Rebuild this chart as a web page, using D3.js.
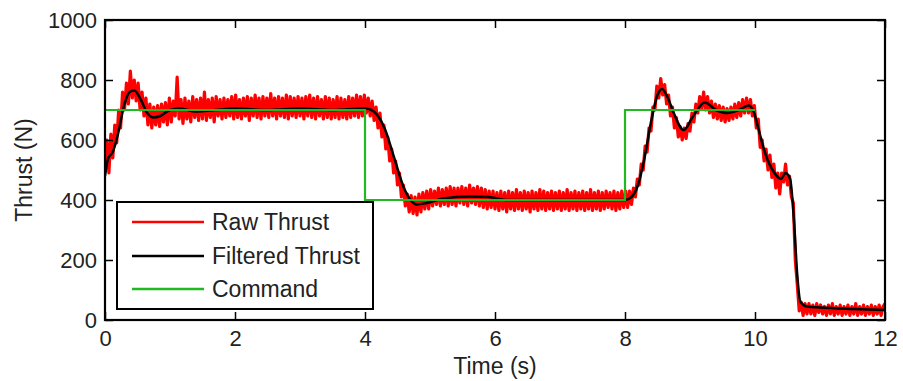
<!DOCTYPE html>
<html>
<head>
<meta charset="utf-8">
<script src="https://cdn.jsdelivr.net/npm/d3@7"></script>
<style>
  html,body{margin:0;padding:0;background:#fff;}
  svg{display:block;font-family:"Liberation Sans",Arial,sans-serif;}
</style>
</head>
<body>
<svg id="chart" width="903" height="381"></svg>
<script>
/* ---------- data ---------- */
const xTicks=[0,2,4,6,8,10,12];
const yTicks=[0,200,400,600,800,1000];

// command: step signal
const cmdT=[0,4,4,8,8,10];
const cmdV=[700,700,400,400,700,700];

// filtered thrust: knots along the black curve
const filtT=[0,0.05,0.12,0.2,0.3,0.38,0.45,0.55,0.65,0.75,0.85,1.0,1.15,1.4,1.7,2.0,2.5,3.0,3.5,4.0,4.1,4.2,4.3,4.45,4.6,4.7,4.8,4.95,5.2,5.6,5.9,6.2,7.0,8.0,8.1,8.2,8.3,8.4,8.5,8.57,8.65,8.75,8.9,9.05,9.23,9.4,9.57,9.75,9.9,9.97,10.05,10.15,10.3,10.4,10.47,10.54,10.6,10.65,10.7,10.8,11.0,11.5,12.0];
const filtV=[480,540,560,620,720,760,765,735,690,675,680,700,705,695,700,705,700,705,700,705,700,680,640,540,440,400,385,390,405,412,410,400,400,400,410,450,540,660,750,770,745,690,633,680,725,700,690,700,715,700,640,560,490,470,490,470,330,150,60,45,42,37,33];

// raw thrust: one sample every RAW_DT seconds
const RAW_DT=0.03;
const rawV=[
520,600,490,620,540,650,590,700,640,760,700,
790,720,830,740,800,730,790,700,760,680,
740,650,720,640,710,650,715,645,720,660,
725,650,740,660,730,680,810,670,735,655,
740,670,730,660,745,675,735,665,740,670,
760,665,735,675,740,660,745,680,735,670,
740,675,735,680,745,670,750,675,735,670,
740,680,745,665,740,680,750,675,740,670,
745,680,740,675,755,680,740,670,745,680,
740,675,750,670,745,680,740,675,745,680,
740,670,745,680,750,675,740,670,745,680,
735,670,745,675,740,670,735,675,745,670,
740,675,735,670,745,675,740,680,750,675,
745,680,750,690,740,680,730,665,710,640,
690,610,650,570,610,530,570,490,530,450,
490,410,450,380,420,360,415,355,410,350,
420,360,425,370,430,370,435,380,430,385,
440,380,435,385,440,380,445,385,440,380,
440,390,445,385,440,380,450,390,440,385,
445,380,440,375,435,370,430,375,430,370,
425,365,430,370,425,360,430,370,425,365,
435,370,425,365,430,370,425,360,430,370,
425,365,435,370,430,365,425,370,430,365,
425,370,430,365,425,370,435,365,425,370,
430,365,425,370,430,365,425,370,435,365,
425,370,430,365,425,370,430,375,425,370,
430,365,425,370,430,375,430,375,430,385,
440,410,470,450,520,500,580,560,640,630,
710,700,780,740,805,750,785,720,750,680,
710,640,675,610,645,600,640,605,655,630,
690,660,720,690,745,705,760,700,745,690,
730,675,720,670,715,665,710,660,705,665,
710,670,720,675,725,680,735,690,740,690,
735,680,715,640,670,575,600,530,570,500,
550,475,520,440,490,420,490,460,520,450,
480,410,390,200,120,30,60,15,55,20,
55,20,50,15,55,25,50,20,45,15,
50,20,55,15,45,20,50,15,45,20,
50,15,45,20,55,15,45,20,50,15,
45,20,50,15,45,20,50,15,45,55
];

const series=[
  {name:"Raw Thrust",color:"#ff0000"},
  {name:"Filtered Thrust",color:"#000000"},
  {name:"Command",color:"#22b822"}
];

/* ---------- layout ---------- */
const L=105,R=885,T=20,B=320;
const FONT="'Liberation Sans',Arial,sans-serif";
const svg=d3.select("#chart");
const x=d3.scaleLinear().domain([0,12]).range([L,R]);
const y=d3.scaleLinear().domain([0,1000]).range([B,T]);

const plot=svg.append("g");
plot.append("defs").append("clipPath").attr("id","clip")
  .append("rect").attr("x",L).attr("y",T).attr("width",R-L).attr("height",B-T);

const line=d3.line().x(d=>x(d[0])).y(d=>y(d[1]));

plot.append("path")
  .datum(rawV.map((v,i)=>[i*RAW_DT,v]))
  .attr("clip-path","url(#clip)")
  .attr("d",line).attr("fill","none")
  .attr("stroke",series[0].color).attr("stroke-width",3.2).attr("stroke-linejoin","round");

plot.append("path")
  .datum(filtT.map((t,i)=>[t,filtV[i]]))
  .attr("clip-path","url(#clip)")
  .attr("d",d3.line().x(d=>x(d[0])).y(d=>y(d[1])).curve(d3.curveMonotoneX)).attr("fill","none")
  .attr("stroke",series[1].color).attr("stroke-width",2.5);

plot.append("path")
  .datum(cmdT.map((t,i)=>[t,cmdV[i]]))
  .attr("d",line).attr("fill","none")
  .attr("stroke",series[2].color).attr("stroke-width",2.2);

/* ---------- axes ---------- */
function styleAxis(g){
  g.select(".domain").remove();
  g.selectAll(".tick line").attr("stroke","#000").attr("stroke-width",1.5);
  g.selectAll(".tick text").attr("fill","#222").attr("font-size",22).attr("font-family",FONT);
}
svg.append("g").attr("transform",`translate(0,${B})`)
  .call(d3.axisBottom(x).tickValues(xTicks).tickSizeInner(-8).tickSizeOuter(0).tickPadding(10))
  .call(styleAxis);
svg.append("g").attr("transform",`translate(0,${T})`)
  .call(d3.axisTop(x).tickValues(xTicks).tickSizeInner(-8).tickSizeOuter(0).tickFormat(""))
  .call(styleAxis);
svg.append("g").attr("transform",`translate(${L},0)`)
  .call(d3.axisLeft(y).tickValues(yTicks).tickFormat(d3.format("d")).tickSizeInner(-8).tickSizeOuter(0).tickPadding(8))
  .call(styleAxis);
svg.append("g").attr("transform",`translate(${R},0)`)
  .call(d3.axisRight(y).tickValues(yTicks).tickSizeInner(-8).tickSizeOuter(0).tickFormat(""))
  .call(styleAxis);

svg.append("rect").attr("x",L).attr("y",T).attr("width",R-L).attr("height",B-T)
  .attr("fill","none").attr("stroke","#000").attr("stroke-width",2.2);

svg.append("text").attr("x",(L+R)/2).attr("y",374).attr("text-anchor","middle")
  .attr("font-size",23).attr("fill","#222").text("Time (s)");
svg.append("text").attr("transform",`translate(32,${(T+B)/2}) rotate(-90)`)
  .attr("text-anchor","middle").attr("font-size",23).attr("fill","#222").text("Thrust (N)");

/* ---------- legend ---------- */
const lg=svg.append("g");
lg.append("rect").attr("x",117).attr("y",202).attr("width",256).attr("height",107)
  .attr("fill","#fff").attr("stroke","#000").attr("stroke-width",2);
const rowsY=[222,256,289];
series.forEach((s,i)=>{
  lg.append("line").attr("x1",132).attr("x2",204).attr("y1",rowsY[i]).attr("y2",rowsY[i])
    .attr("stroke",s.color).attr("stroke-width",2.5);
  lg.append("text").attr("x",212).attr("y",rowsY[i]).attr("dy","0.36em")
    .attr("font-size",23).attr("fill","#222").text(s.name);
});
</script>
</body>
</html>
